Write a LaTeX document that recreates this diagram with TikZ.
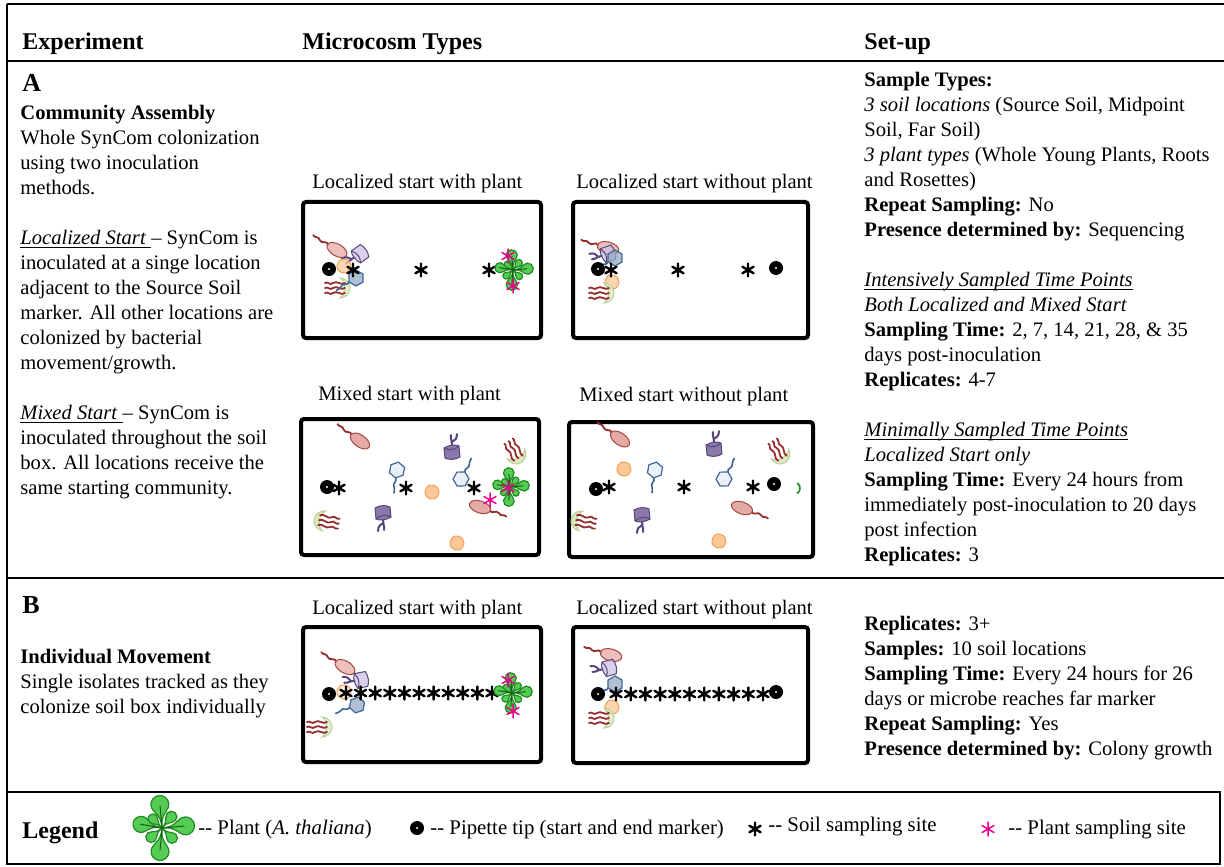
\documentclass[tikz,border=0pt]{standalone}
\usepackage{fontspec}
\setmainfont{Liberation Serif}

\definecolor{leafgreen}{RGB}{86,204,86}
\definecolor{leafline}{RGB}{30,140,30}
\definecolor{veingreen}{RGB}{20,95,20}
\definecolor{cellpink}{RGB}{230,170,165}
\definecolor{cellpinkline}{RGB}{165,70,65}
\definecolor{tailred}{RGB}{150,45,45}
\definecolor{cellpurple}{RGB}{138,120,168}
\definecolor{cellpurpleline}{RGB}{85,70,125}
\definecolor{lavender}{RGB}{205,192,225}
\definecolor{hexfill}{RGB}{234,240,247}
\definecolor{hexdark}{RGB}{150,170,195}
\definecolor{hexline}{RGB}{65,100,150}
\definecolor{blobfill}{RGB}{251,200,150}
\definecolor{blobline}{RGB}{244,160,90}
\definecolor{crescentfill}{RGB}{218,232,192}
\definecolor{crescentline}{RGB}{185,210,155}

\begin{document}
\begin{tikzpicture}[x=0.5pt, y=-0.5pt,
  txt/.style={inner sep=0pt, anchor=base west, font=\fontsize{10.3}{12.5}\selectfont},
  para/.style={txt, anchor=north west, align=left},
  head/.style={inner sep=0pt, anchor=base west, font=\fontsize{12}{14}\selectfont\bfseries},
  legtxt/.style={inner sep=0pt, anchor=base west, font=\fontsize{10.4}{12.5}\selectfont},
  rule/.style={line width=1pt},
  soilbox/.style={line width=2pt, rounded corners=1.5pt},
  tail/.style={draw=tailred, line width=0.9pt, line cap=round},
  pinkbody/.style={fill=cellpink, draw=cellpinkline, line width=0.5pt},
  purplebody/.style={fill=cellpurple, draw=cellpurpleline, line width=0.5pt},
  purpletail/.style={draw=cellpurpleline, line width=1pt, line cap=round},
  hexbody/.style={fill=hexfill, draw=hexline, line width=0.6pt},
  bluetail/.style={draw=hexline, line width=0.8pt, line cap=round},
  blobbody/.style={fill=blobfill, draw=blobline, line width=0.5pt},
  crescentbody/.style={fill=crescentfill, draw=crescentline, line width=0.5pt},
  leaf/.style={fill=leafgreen, draw=leafline, line width=0.6pt},
  vein/.style={draw=veingreen, line width=0.5pt},
  star/.style={line cap=round, line width=1.2pt},
  cluster/.style={fill opacity=0.75,
    hexbody/.style={fill=hexdark, draw=hexline, line width=0.6pt},
    purplebody/.style={fill=lavender, draw=cellpurpleline, line width=0.5pt}},
  % microbes, all drawn in pixel units
  pinkcell/.pic={
    \draw[tail] (-10,0) .. controls (-14,-4) and (-16,3) .. (-20,0) .. controls (-23,-3) and (-25,1) .. (-28,-1);
    \filldraw[pinkbody] (0,0) ellipse [x radius=11, y radius=6];
  },
  purplecell/.pic={
    \draw[purpletail] (0,-6) .. controls (1,-10) and (-2,-12) .. (-1,-17)
      (0,-10) .. controls (3,-11) and (5,-14) .. (5,-18);
    \filldraw[purplebody] (-8,-4) .. controls (-3,-7) and (3,-8) .. (7,-6) -- (8,5)
      .. controls (3,8) and (-3,8) .. (-7,6) -- cycle;
    \draw[cellpurpleline, line width=0.5pt] (-8,-4) .. controls (-3,-1) and (3,-2) .. (7,-6);
  },
  hexcell/.pic={
    \draw[bluetail] (0,8) .. controls (3,11) and (-3,14) .. (0,17) .. controls (2,19) and (0,21) .. (1,23);
    \filldraw[hexbody] (30:8) -- (90:8) -- (150:8) -- (210:8) -- (270:8) -- (330:8) -- cycle;
  },
  blob/.pic={
    \filldraw[blobbody] plot[smooth cycle] coordinates {(0,-7) (5,-5) (7,1) (4,6) (-1,7) (-6,4) (-7,-1) (-4,-6)};
  },
  hairycell/.pic={
    \filldraw[crescentbody] (-10,0) arc[start angle=180, end angle=0, radius=10]
      .. controls (6,6) and (-6,6) .. (-10,0) -- cycle;
    \foreach \h in {-5,0,5}
      \draw[tail] (\h,5) .. controls (\h-3,1) and (\h+3,-3) .. (\h,-7) .. controls (\h-3,-10) and (\h+2,-12) .. (\h,-15);
  },
  % markers
  pipette/.pic={\fill (0,0) circle (7); \fill[white] (0,0) circle (1.2);},
  soilsite/.pic={\draw[star] (0,-6.5) -- (0,6.5) (-5.6,-3.25) -- (5.6,3.25) (-5.6,3.25) -- (5.6,-3.25);},
  plantsite/.pic={\draw[star, magenta, line width=0.75pt] (0,-7) -- (0,7) (-6,-3.5) -- (6,3.5) (-6,3.5) -- (6,-3.5);},
  plant/.pic={
    \foreach \a/\s in {310/0.62,140/0.6,45/0.6,225/0.55,265/1,190/0.9,355/1,95/1}
      \filldraw[leaf, rotate=-\a, scale=\s] (0,0) .. controls (0.3,-0.02) .. (0.54,-0.2)
        arc[start angle=-135, end angle=135, radius=0.28] .. controls (0.3,0.02) .. (0,0);
    \foreach \a in {265,190,355,95}
      \draw[vein] (0,0) -- (\a:0.7);
  }]
\useasboundingbox (0,0) rectangle (1224,866);

% table rules
\draw[rule] (7,4) -- (1224,4);
\draw[rule] (7,61) -- (1224,61);
\draw[rule] (7,578) -- (1224,578);
\draw[rule] (7,4) -- (7,792);

% headings
\node[head] (hexp) at (22,50) {Experiment};
\node[head] (hmicro) at (302,50) {Microcosm Types};
\node[head] (hsetup) at (864,50) {Set-up};

% experiment column
\node[head, font=\fontsize{13}{15}\selectfont\bfseries] (labA) at (22,92) {A};
\node[para] (expA) at (20,101.5) {\strut\textbf{Community Assembly}\\
  Whole SynCom colonization\\
  using two inoculation\\
  methods.\\[12.5pt]
  \underbar{\textit{Localized Start}\ }-- SynCom is\\
  inoculated at a singe location\\
  adjacent to the Source Soil\\
  marker. All other locations are\\
  colonized by bacterial\\
  movement/growth.\\[12.5pt]
  \underbar{\textit{Mixed Start}\ }-- SynCom is\\
  inoculated throughout the soil\\
  box. All locations receive the\\
  same starting community.};
\node[head, font=\fontsize{13}{15}\selectfont\bfseries] (labB) at (22,613) {B};
\node[para] (expB) at (20,645.5) {\strut\textbf{Individual Movement}\\
  Single isolates tracked as they\\
  colonize soil box individually};

% set-up column
\node[para] (setA) at (864,68.5) {\strut\textbf{Sample Types:}\\
  \textit{3 soil locations} (Source Soil, Midpoint\\
  Soil, Far Soil)\\
  \textit{3 plant types} (Whole Young Plants, Roots\\
  and Rosettes)\\
  \textbf{Repeat Sampling:} No\\
  \textbf{Presence determined by:} Sequencing\\[12.5pt]
  \underbar{\textit{Intensively Sampled Time Points}}\\
  \textit{Both Localized and Mixed Start}\\
  \textbf{Sampling Time:} 2, 7, 14, 21, 28, \& 35\\
  days post-inoculation\\
  \textbf{Replicates:} 4-7\\[12.5pt]
  \underbar{\textit{Minimally Sampled Time Points}}\\
  \textit{Localized Start only}\\
  \textbf{Sampling Time:} Every 24 hours from\\
  immediately post-inoculation to 20 days\\
  post infection\\
  \textbf{Replicates:} 3};
\node[para] (setB) at (864,612.5) {\strut\textbf{Replicates:} 3+\\
  \textbf{Samples:} 10 soil locations\\
  \textbf{Sampling Time:} Every 24 hours for 26\\
  days or microbe reaches far marker\\
  \textbf{Repeat Sampling:} Yes\\
  \textbf{Presence determined by:} Colony growth};

% microcosm titles and boxes
\node[txt] (tA1) at (312,189) {Localized start with plant};
\node[txt] (tA2) at (576,189) {Localized start without plant};
\node[txt] (tA3) at (318,400) {Mixed start with plant};
\node[txt] (tA4) at (579,401) {Mixed start without plant};
\node[txt] (tB1) at (312,614) {Localized start with plant};
\node[txt] (tB2) at (576,614) {Localized start without plant};
\draw[soilbox] (303,202) rectangle (541,338);
\draw[soilbox] (573,202) rectangle (808,338);
\draw[soilbox] (301,419) rectangle (539,555);
\draw[soilbox] (569,422) rectangle (813,557);
\draw[soilbox] (303,627) rectangle (541,762);
\draw[soilbox] (573,627) rectangle (808,763);

% A: localized start with plant
\begin{scope}[cluster]
  \pic[rotate=-30] at (337,250) {pinkcell};
  \pic[rotate=120] at (360,254) {purplecell};
  \pic[rotate=90] at (340,288) {hairycell};
  \pic[rotate=-60] at (356,278) {hexcell};
  \pic at (344,266) {blob};
\end{scope}
\pic at (329,269) {pipette};
\foreach \x in {353,421,489} \pic at (\x,270) {soilsite};
\pic[scale=20] at (513,270) {plant};
\pic at (508,256) {plantsite};
\pic at (513,286) {plantsite};

% A: localized start without plant
\begin{scope}[cluster]
  \pic[rotate=-15] at (608,248) {pinkcell};
  \pic[rotate=105] at (608,254) {purplecell};
  \pic[rotate=-60] at (615,258) {hexcell};
  \pic at (612,282) {blob};
  \pic[rotate=90] at (604,293) {hairycell};
\end{scope}
\pic at (598,269) {pipette};
\foreach \x in {611,678,748} \pic at (\x,270) {soilsite};
\pic at (776,268) {pipette};

% A: mixed start with plant
\pic[rotate=-35] at (360,441) {pinkcell};
\pic[rotate=162] at (480,507) {pinkcell};
\pic at (452,452) {purplecell};
\pic[rotate=180] at (383,513) {purplecell};
\pic[rotate=-10] at (397,470) {hexcell};
\pic[rotate=151] at (461,479) {hexcell};
\pic at (432,492) {blob};
\pic at (457,543) {blob};
\pic[rotate=30] at (516,454) {hairycell};
\pic[rotate=-100] at (324,521) {hairycell};
\pic at (327,487) {pipette};
\foreach \x in {339,406,474} \pic at (\x,488) {soilsite};
\pic[scale=19] at (510,487) {plant};
\pic at (508,488) {plantsite};
\pic at (490,500) {plantsite};

% A: mixed start without plant
\pic[rotate=-35] at (620,439) {pinkcell};
\pic[rotate=160] at (742,508) {pinkcell};
\pic at (714,449) {purplecell};
\pic[rotate=180] at (642,515) {purplecell};
\pic[rotate=-10] at (655,470) {hexcell};
\pic[rotate=151] at (724,479) {hexcell};
\pic at (624,469) {blob};
\pic at (719,541) {blob};
\pic[rotate=30] at (780,454) {hairycell};
\pic[rotate=-100] at (581,521) {hairycell};
\pic at (596,489) {pipette};
\foreach \x in {609,684,753} \pic at (\x,487) {soilsite};
\pic at (774,484) {pipette};
\draw[leafline, line width=0.8pt] (797,483) arc[start angle=-60, end angle=60, radius=6];

% B: localized start with plant
\begin{scope}[cluster]
  \pic[rotate=-30] at (345,667) {pinkcell};
  \pic[rotate=96] at (361,680) {purplecell};
  \pic[rotate=-71] at (357,705) {hexcell};
  \pic[rotate=90] at (322,727) {hairycell};
  \pic[fill opacity=0.3] at (344,692) {blob};
\end{scope}
\pic at (329,694) {pipette};
\foreach \k in {0,...,10} \pic at ({346+14.6*\k},693) {soilsite};
\pic[scale=20] at (512,693) {plant};
\pic at (508,680) {plantsite};
\pic at (513,711) {plantsite};

% B: localized start without plant
\begin{scope}[cluster]
  \pic[rotate=-15] at (611,655) {pinkcell};
  \pic[rotate=100] at (609,668) {purplecell};
  \pic[rotate=-60] at (615,684) {hexcell};
  \pic at (612,707) {blob};
  \pic[rotate=90] at (604,718) {hairycell};
\end{scope}
\pic at (598,694) {pipette};
\foreach \k in {0,...,10} \pic at ({616+14.7*\k},694) {soilsite};
\pic at (776,692) {pipette};

% legend
\draw[rule] (7,792) rectangle (1220,864);
\node[head] (leg) at (22,838) {Legend};
\pic[scale=32] at (162,828) {plant};
\node[legtxt] (legplant) at (198,834) {-{}- Plant (\textit{A. thaliana})};
\pic at (417,828) {pipette};
\node[legtxt] (legpip) at (430,834) {-{}- Pipette tip (start and end marker)};
\pic at (755,829) {soilsite};
\node[legtxt] (legsoil) at (768,831) {-{}- Soil sampling site};
\pic at (988,829) {plantsite};
\node[legtxt] (legsite) at (1008,834) {-{}- Plant sampling site};
\end{tikzpicture}
\end{document}
